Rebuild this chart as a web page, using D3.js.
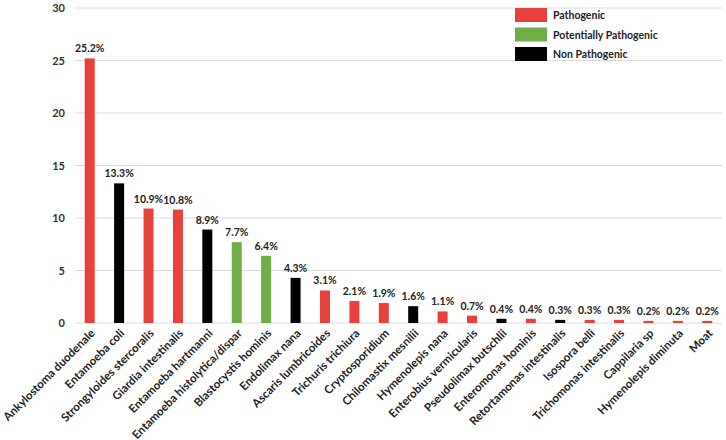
<!DOCTYPE html>
<html><head><meta charset="utf-8">
<script src="https://cdn.jsdelivr.net/npm/d3@7"></script>
<style>body{margin:0;background:#fff;} svg{display:block;font-family:Lato,"Open Sans",sans-serif;}</style>
</head><body><svg id="c" width="726" height="440"></svg>
<script>
const categories = ["Ankylostoma duodenale","Entamoeba coli","Strongyloides stercoralis","Giardia intestinalis","Entamoeba hartmanni","Entamoeba histolytica/dispar","Blastocystis hominis","Endolimax nana","Ascaris lumbricoides","Trichuris trichiura","Cryptosporidium","Chilomastix mesnilii","Hymenolepis nana","Enterobius vermicularis","Pseudolimax butschlii","Enteromonas hominis","Retortamonas intestinalis","Isospora belli","Trichomonas intestinalis","Cappilaria sp","Hymenolepis diminuta","Moat"];
const values = [25.2,13.3,10.9,10.8,8.9,7.7,6.4,4.3,3.1,2.1,1.9,1.6,1.1,0.7,0.4,0.4,0.3,0.3,0.3,0.2,0.2,0.2];
const groups = ["P","N","P","P","N","PP","PP","N","P","P","P","N","P","P","N","P","N","P","P","P","P","P"];
const legendKeys = ["P","PP","N"];
const legendLabels = ["Pathogenic","Potentially Pathogenic","Non Pathogenic"];
const yTicks = [0,5,10,15,20,25,30];

(function(){
const colors = {P:"#e8413c", PP:"#70ad47", N:"#000000"};
const svg = d3.select("#c");
const mL = 75, mR = 722, mT = 8, mB = 323;
const x = d3.scaleBand().domain(categories).range([mL, mR]).paddingInner(0.66).paddingOuter(0.33);
const y = d3.scaleLinear().domain([0,30]).range([mB, mT]);

svg.append("g").selectAll("line").data(yTicks).join("line")
  .attr("x1", mL).attr("x2", mR).attr("y1", d=>y(d)).attr("y2", d=>y(d))
  .attr("stroke", "#dcdcdc").attr("stroke-width", 1);

const yAxis = svg.append("g").attr("transform", `translate(${mL},0)`)
  .call(d3.axisLeft(y).tickValues(yTicks).tickSize(0).tickPadding(10));
yAxis.select(".domain").remove();
yAxis.selectAll("text").attr("font-size", 11).attr("font-weight", "bold").attr("fill", "#333").attr("font-family","Lato,sans-serif");

svg.append("g").selectAll("rect").data(categories).join("rect")
  .attr("x", d=>x(d)).attr("width", x.bandwidth())
  .attr("y", (d,i)=>y(values[i])).attr("height", (d,i)=>y(0)-y(values[i]))
  .attr("fill", (d,i)=>colors[groups[i]]);

svg.append("g").selectAll("text").data(categories).join("text")
  .attr("x", d=>x(d)+x.bandwidth()/2).attr("y", (d,i)=>y(values[i])-6)
  .attr("text-anchor","middle").attr("font-size", 10.5).attr("font-weight","bold").attr("fill","#222")
  .text((d,i)=>values[i].toFixed(1)+"%");

const xAxis = svg.append("g").attr("transform", `translate(0,${mB})`)
  .call(d3.axisBottom(x).tickSize(0).tickPadding(0));
xAxis.select(".domain").remove();
xAxis.selectAll("text")
  .attr("font-size", 11.5).attr("font-weight","bold").attr("fill","#222").attr("font-family","Lato,sans-serif")
  .attr("text-anchor","end").attr("dy", 0)
  .attr("transform", "translate(6,11) rotate(-45)");

const lg = svg.append("g");
legendKeys.forEach((k,i)=>{
  lg.append("rect").attr("x",515).attr("y",8+i*19.5).attr("width",32).attr("height",14).attr("fill",colors[k]);
  lg.append("text").attr("x",553).attr("y",19+i*19.5).attr("font-size",10.5).attr("font-weight","bold").attr("fill","#222").text(legendLabels[i]);
});
})();
</script></body></html>
